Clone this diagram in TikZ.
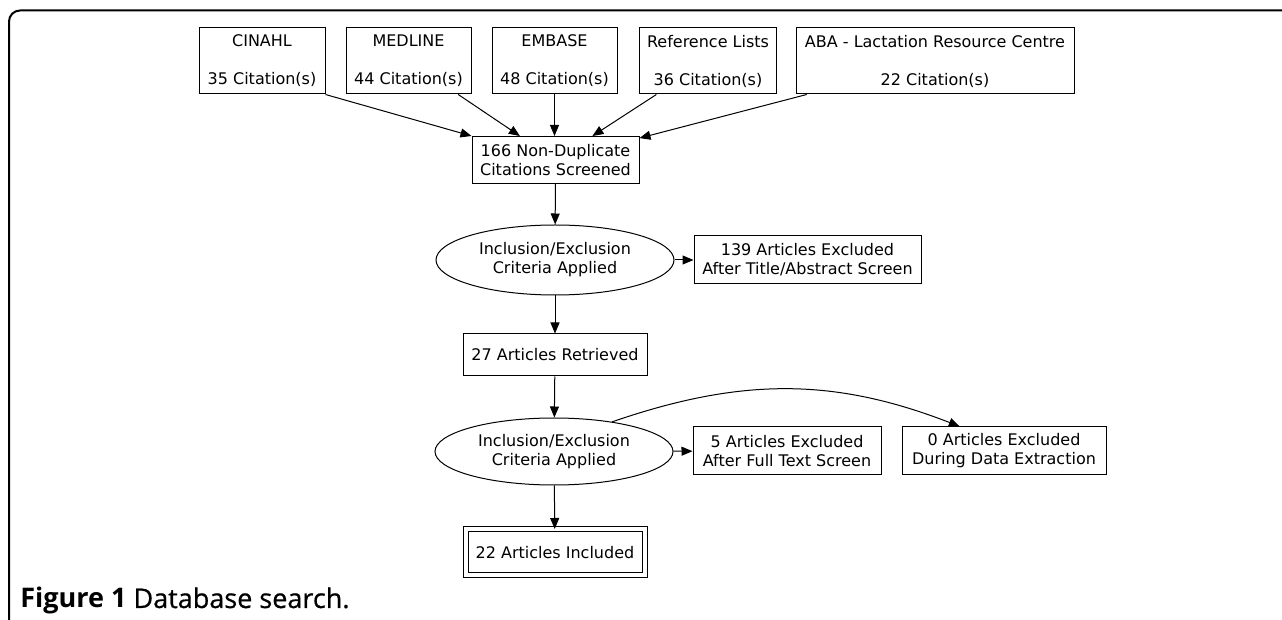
\documentclass[tikz,border=0pt]{standalone}
\usepackage{fontspec}
\setmainfont{DejaVu Sans}
\newfontfamily\capfont{Open Sans}
\usetikzlibrary{arrows.meta, shapes.geometric}
\tikzset{>={Triangle[length=5.5pt,width=4.5pt]}}

\begin{document}
\begin{tikzpicture}[x=0.5pt, y=-0.5pt,
  every node/.style={font=\fontsize{8}{9.5}\selectfont, align=center, inner sep=0pt},
  srcbox/.style={draw, line width=0.5pt, minimum height=33pt},
  stepbox/.style={draw, line width=0.5pt, minimum height=24pt},
  critnode/.style={draw, ellipse, line width=0.5pt, minimum width=119pt},
  flow/.style={->, line width=0.5pt}]
\useasboundingbox (0,0) rectangle (1282,620);
% frame round the figure
\draw[line width=1pt, rounded corners=5.5pt] (9,625) -- (9,10.5) -- (1290,10.5);

% databases
\node[srcbox, minimum width=63pt] (cinahl) at (262,61) {CINAHL\\[9.5pt]35 Citation(s)};
\node[srcbox, minimum width=62.5pt] (medline) at (408.5,61) {MEDLINE\\[9.5pt]44 Citation(s)};
\node[srcbox, minimum width=62.5pt] (embase) at (554.5,61) {EMBASE\\[9.5pt]48 Citation(s)};
\node[srcbox, minimum width=68.5pt] (reflists) at (708,61) {Reference Lists\\[9.5pt]36 Citation(s)};
\node[srcbox, minimum width=139pt] (aba) at (935,61) {ABA - Lactation Resource Centre\\[9.5pt]22 Citation(s)};

% screening
\node[stepbox, minimum width=83.5pt, minimum height=23.5pt] (nd) at (555.5,160) {166 Non-Duplicate\\Citations Screened};
\node[critnode, minimum height=35pt] (crit1) at (555,260) {Inclusion/Exclusion\\Criteria Applied};
\node[stepbox, minimum width=113.5pt] (excl1) at (807.5,260) {139 Articles Excluded\\After Title/Abstract Screen};
\node[stepbox, minimum width=92pt, minimum height=21pt] (ret) at (555,355) {27 Articles Retrieved};
\node[critnode, minimum height=33.5pt] (crit2) at (554,451.5) {Inclusion/Exclusion\\Criteria Applied};
\node[stepbox, minimum width=94pt] (excl2) at (787,451) {5 Articles Excluded\\After Full Text Screen};
\node[stepbox, minimum width=102pt] (excl3) at (1004,451) {0 Articles Excluded\\During Data Extraction};
\node[draw, double, double distance=2pt, line width=0.5pt, minimum width=89.5pt, minimum height=23pt] (incl) at (555,552.5) {22 Articles Included};

% arrows
\draw[flow] (cinahl.south east) -- (nd.north west);
\draw[flow] (medline) -- (nd);
\draw[flow] (embase) -- (embase |- nd.north);
\draw[flow] (reflists) -- (nd);
\draw[flow] (aba) -- (nd);
\draw[flow] (nd) -- (crit1);
\draw[flow] (crit1) -- (excl1);
\draw[flow] (crit1) -- (ret);
\draw[flow] (ret) -- (crit2);
\draw[flow] (crit2) -- (excl2);
\draw[flow] (crit2.27) .. controls (742,377) and (835,378) .. (excl3.151);
\draw[flow] (crit2) -- (incl);

% caption
\node[anchor=base west, font=\capfont\fontsize{13.5}{15}\selectfont] (cap) at (20,608) {\textbf{Figure 1} {\addfontfeature{FakeBold=0.6}Database search.}};
\end{tikzpicture}
\end{document}
